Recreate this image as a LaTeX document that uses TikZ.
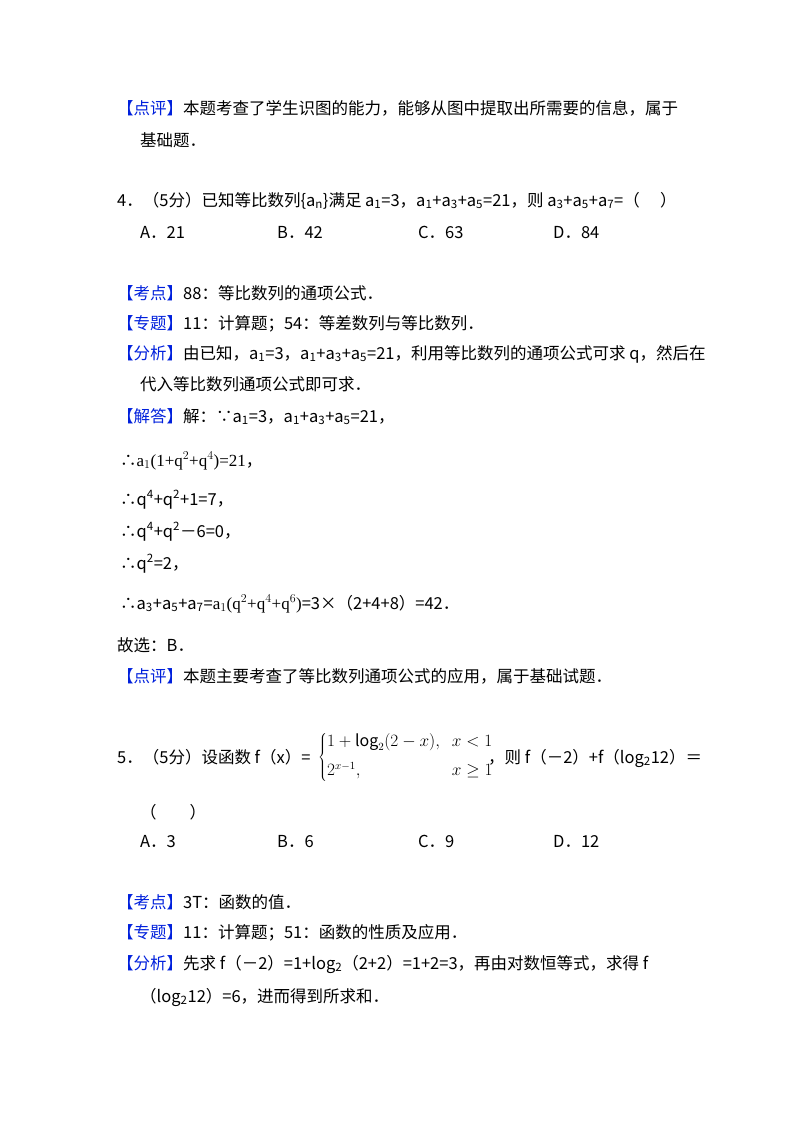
\documentclass[tikz,border=0pt]{standalone}
\usepackage{fontspec}
\setmainfont{Noto Sans CJK SC}
\newfontfamily\serifx{Liberation Serif}
\definecolor{lblue}{RGB}{0,32,220}
\newcommand{\lbl}[1]{\textcolor{lblue}{【#1】}}
\newcommand{\sbx}[1]{\textsubscript{#1}}
\newcommand{\spx}[1]{\textsuperscript{#1}}
\tikzset{t/.style={anchor=base west,inner sep=0pt,font=\fontsize{16.5}{20}\selectfont}}
\begin{document}
\begin{tikzpicture}[x=1pt,y=-1pt]
\useasboundingbox (0,0) rectangle (800,1133);
\node[t] (l1) at (117,114) {\lbl{点评}本题考查了学生识图的能力，能够从图中提取出所需要的信息，属于};
\node[t] (l2) at (140,146) {基础题．};
\node[t] (q4) at (117,206) {4．（5分）已知等比数列\{a\sbx{n}\}满足 a\sbx{1}=3，a\sbx{1}+a\sbx{3}+a\sbx{5}=21，则 a\sbx{3}+a\sbx{5}+a\sbx{7}=（\quad\ ）};
\node[t] (oa) at (140,238) {A．21};
\node[t] (ob) at (277,238) {B．42};
\node[t] (oc) at (418,238) {C．63};
\node[t] (od) at (553,238) {D．84};
\node[t] (k1) at (117,299) {\lbl{考点}88：等比数列的通项公式．};
\node[t] (z1) at (117,329) {\lbl{专题}11：计算题；54：等差数列与等比数列．};
\node[t] (f1) at (117,359) {\lbl{分析}由已知，a\sbx{1}=3，a\sbx{1}+a\sbx{3}+a\sbx{5}=21，利用等比数列的通项公式可求 q，然后在};
\node[t] (f2) at (140,390) {代入等比数列通项公式即可求．};
\node[t] (j1) at (117,422) {\lbl{解答}解：∵a\sbx{1}=3，a\sbx{1}+a\sbx{3}+a\sbx{5}=21，};
\node[t] (j2) at (120,466) {∴{\serifx\fontsize{17}{20}\selectfont a$_1$(1+q$^2$+q$^4$)=21}，};
\node[t] (j3) at (120,505) {∴q\spx{4}+q\spx{2}+1=7，};
\node[t] (j4) at (120,537) {∴q\spx{4}+q\spx{2}－6=0，};
\node[t] (j5) at (120,569) {∴q\spx{2}=2，};
\node[t] (j6) at (120,609) {∴a\sbx{3}+a\sbx{5}+a\sbx{7}={\serifx\fontsize{17}{20}\selectfont a$_1$(q$^2$+q$^4$+q$^6$)}=3×（2+4+8）=42．};
\node[t] (g1) at (117,651) {故选：B．};
\node[t] (p1) at (117,682) {\lbl{点评}本题主要考查了等比数列通项公式的应用，属于基础试题．};
\node[t] (q5) at (117,763) {5．（5分）设函数 f（x）=};
\node[anchor=west,inner sep=0pt] (pw) at (318,757) {\serifx\fontsize{16}{19}\selectfont $\left\{\begin{array}{@{}l@{\hspace{12pt}}l@{}}1+\log_2(2-x), & x<1\\[10pt] 2^{x-1}, & x\geq 1\end{array}\right.$};
\node[t] (q5b) at (488,763) {，则 f（－2）+f（log\sbx{2}12）＝};
\node[t] (q5c) at (140,818) {（\qquad ）};
\node[t] (oa5) at (140,847) {A．3};
\node[t] (ob5) at (277,847) {B．6};
\node[t] (oc5) at (418,847) {C．9};
\node[t] (od5) at (553,847) {D．12};
\node[t] (k2) at (117,908) {\lbl{考点}3T：函数的值．};
\node[t] (z2) at (117,938) {\lbl{专题}11：计算题；51：函数的性质及应用．};
\node[t] (f3) at (117,969) {\lbl{分析}先求 f（－2）=1+log\sbx{2}（2+2）=1+2=3，再由对数恒等式，求得 f};
\node[t] (f4) at (140,1002) {（log\sbx{2}12）=6，进而得到所求和．};
\end{tikzpicture}
\end{document}
